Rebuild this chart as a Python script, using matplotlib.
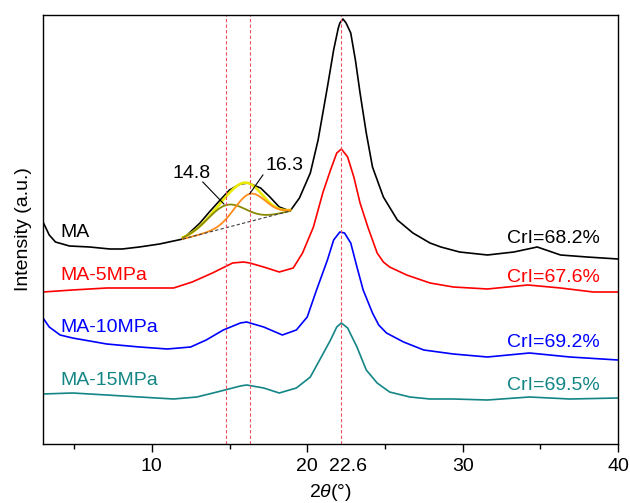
import numpy as np
import matplotlib
matplotlib.use('Agg')
import matplotlib.pyplot as plt

plt.rcParams['font.family'] = ['Liberation Sans', 'DejaVu Sans']
plt.rcParams['mathtext.fontset'] = 'custom'
plt.rcParams['mathtext.rm'] = 'Liberation Sans'
plt.rcParams['mathtext.it'] = 'Liberation Sans:italic'

# XRD patterns (2theta in degrees, intensity in arbitrary units, already offset)
ma_x = [3.0, 3.4, 3.8, 4.7, 6.0, 7.3, 8.1, 9.2, 10.5, 12.0, 13.1, 13.7, 14.4, 15.0, 15.7,
        16.2, 17.0, 17.6, 18.2, 18.9, 19.5, 20.2, 20.7, 21.3, 21.7, 22.0, 22.1, 22.3, 22.5,
        22.8, 23.1, 23.4, 23.8, 24.2, 24.9, 25.8, 26.8, 27.9, 28.6, 29.8, 31.6, 33.3, 34.8,
        36.3, 38.0, 40.0]
ma_y = [221, 208, 201, 197, 196, 194, 194, 196, 199, 204, 220, 231, 243, 253, 259,
        260, 255, 246, 236, 232, 245, 270, 303, 356, 393, 415, 420, 424, 420,
        410, 383, 350, 310, 276, 246, 223, 210, 200, 196, 191, 188, 191, 196,
        188, 186, 184]

ma5_x = [3.0, 4.9, 7.1, 9.2, 11.4, 12.6, 13.9, 15.2, 15.9, 16.3, 17.2, 18.2, 19.1, 19.7, 20.4,
         21.0, 21.5, 21.9, 22.2, 22.6, 23.0, 23.4, 23.9, 24.5, 24.9, 25.3, 26.4, 27.9, 29.4,
         31.6, 34.2, 36.3, 38.4, 40.0]
ma5_y = [151, 153, 155, 155, 155, 161, 170, 180, 181, 180, 176, 171, 175, 190, 216,
         250, 273, 290, 294, 286, 266, 240, 216, 190, 181, 176, 168, 160, 156,
         154, 158, 155, 151, 151]

ma10_x = [3.0, 3.4, 4.1, 4.9, 7.1, 9.2, 11.0, 12.5, 13.5, 14.6, 15.7, 16.1, 17.2, 18.4, 19.3,
          20.0, 20.6, 21.3, 21.7, 22.1, 22.4, 22.8, 23.2, 23.6, 24.2, 24.6, 25.1, 26.2, 27.5,
          29.4, 31.6, 34.3, 36.9, 40.0]
ma10_y = [125, 116, 108, 105, 99, 96, 94, 96, 103, 113, 120, 121, 116, 108, 113,
          126, 153, 183, 203, 211, 210, 200, 176, 153, 130, 118, 110, 101, 93,
          89, 86, 90, 86, 83]

ma15_x = [3.0, 4.9, 7.1, 9.2, 11.4, 12.9, 14.2, 15.7, 16.1, 17.2, 18.2, 19.3, 20.2, 20.8, 21.5,
          21.9, 22.2, 22.6, 23.2, 23.8, 24.5, 25.3, 26.6, 27.9, 29.4, 31.6, 34.3, 36.9, 40.0]
ma15_y = [49, 50, 48, 46, 44, 46, 51, 57, 58, 55, 50, 55, 66, 83, 103,
          116, 120, 115, 96, 73, 60, 51, 46, 44, 44, 43, 46, 44, 45]

labels = ['MA', 'MA-5MPa', 'MA-10MPa', 'MA-15MPa']
cri_labels = ['CrI=68.2%', 'CrI=67.6%', 'CrI=69.2%', 'CrI=69.5%']
colors = ['black', '#FF0000', '#0000FF', '#138585']
label_y = [206, 163, 111, 58]
cri_y = [200, 161, 96, 53]

# peak deconvolution of the amorphous region of MA
fit_range = [12.0, 18.9]
fit_base = [204, 232]
peak_centers = [14.8, 16.3]
peak_heights = [22.6, 27.6]
peak_widths = [1.2, 1.0]
peak_colors = ['#8A8A00', '#FF8C1A']

fig = plt.figure(figsize=(6.3, 5.03), dpi=100)
ax = fig.add_axes([0.0683, 0.1173, 0.9127, 0.8529])

series = [(ma_x, ma_y), (ma5_x, ma5_y), (ma10_x, ma10_y), (ma15_x, ma15_y)]
for (xs, ys), c in zip(series, colors):
    ax.plot(xs, ys, color=c, lw=1.2)

# fitted components on a linear baseline
xf = np.linspace(fit_range[0], fit_range[1], 200)
base = np.interp(xf, fit_range, fit_base)
total = base.copy()
comps = []
for c0, h, w in zip(peak_centers, peak_heights, peak_widths):
    g = h * np.exp(-(xf - c0) ** 2 / (2 * w ** 2))
    comps.append(g)
    total += g
ax.plot(xf, total, color='#EAEA00', lw=1.9)
for g, c in zip(comps, peak_colors):
    ax.plot(xf, base + g, color=c, lw=1.3)
ax.plot(fit_range, fit_base, color='#404040', lw=0.8, linestyle=(0, (3, 2)))

# peak positions
for xv in [14.8, 16.3, 22.2]:
    ax.axvline(xv, color='#EE5060', lw=0.8, linestyle=(0, (3, 2)))

for lab, cri, c, ly, cy in zip(labels, cri_labels, colors, label_y, cri_y):
    ax.text(4.1, ly, lab, color=c, fontsize=14, ha='left', va='baseline')
    ax.text(38.85, cy, cri, color=c, fontsize=14, ha='right', va='baseline')

ax.text(12.58, 265, '14.8', fontsize=14, ha='center', va='baseline')
ax.text(18.56, 273, '16.3', fontsize=14, ha='center', va='baseline')
ax.plot([13.28, 14.64], [261, 239], color='black', lw=0.8)
ax.plot([17.15, 16.31], [268, 249.5], color='black', lw=0.8)

ax.set_xlim(3, 40)
ax.set_ylim(-1, 428)
ax.set_xticks([10, 20, 30, 40])
ax.set_xticks([5, 15, 25, 35], minor=True)
ax.set_yticks([])
ax.tick_params(axis='x', which='major', direction='out', length=6, width=1, labelsize=14, pad=4)
ax.tick_params(axis='x', which='minor', direction='out', length=3.5, width=1)
ax.annotate('22.6', xy=(22.6, 0), xycoords=('data', 'axes fraction'),
            xytext=(0, -10), textcoords='offset points', ha='center', va='top', fontsize=14)
for s in ax.spines.values():
    s.set_linewidth(1.0)

ax.set_xlabel(r'2$\theta$(°)', fontsize=14, labelpad=5)
ax.set_ylabel('Intensity (a.u.)', fontsize=14, labelpad=8)

plt.savefig('out.png', dpi=100)
